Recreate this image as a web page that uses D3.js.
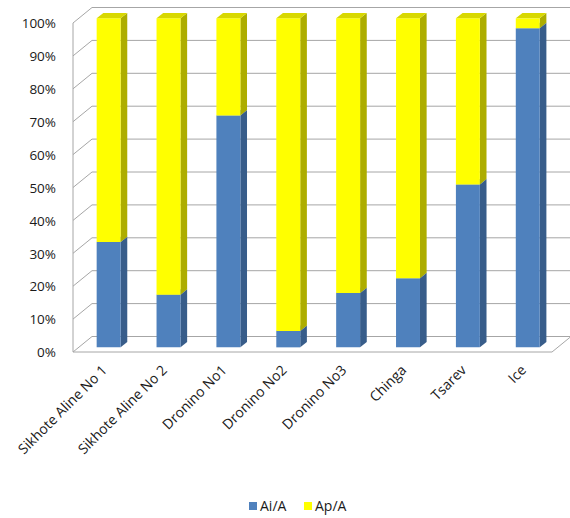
<!DOCTYPE html>
<html>
<head>
<meta charset="utf-8">
<script src="https://cdn.jsdelivr.net/npm/d3@7"></script>
<style>
  html, body { margin: 0; padding: 0; background: #ffffff; }
  svg { display: block; }
  text { font-family: "Open Sans", "DejaVu Sans", sans-serif; fill: #1a1a1a; }
</style>
</head>
<body>
<svg id="chart" width="570" height="518"></svg>
<script>
// ---- data ----
const categories = ["Sikhote Aline No 1", "Sikhote Aline No 2", "Dronino No1", "Dronino No2", "Dronino No3", "Chinga", "Tsarev", "Ice"];
const aiA = [32, 16, 70.5, 5, 16.5, 21, 49.5, 97];
const apA = aiA.map(v => 100 - v);
const seriesNames = ["Ai/A", "Ap/A"];
const tickValues = [0, 10, 20, 30, 40, 50, 60, 70, 80, 90, 100];

// ---- styles ----
const colors = {
  "Ai/A": { front: "#4f81bd", side: "#385d8a", top: "#6d97cb" },
  "Ap/A": { front: "#ffff00", side: "#adad00", top: "#d8d800" }
};
const gridColor = "#a6a6a6";

const svg = d3.select("#chart");

// ---- geometry ----
const plotLeft = 73, plotRight = 552, plotBottom = 352, plotTop = 23;
const DX = 19, DY = 15.5;          // depth projection
const zFront = 0.3, zBack = 0.65;  // bar depth range

const x = d3.scaleBand().domain(categories).range([plotLeft, plotRight]).paddingInner(0.6).paddingOuter(0.3);
const y = d3.scaleLinear().domain([0, 100]).range([plotBottom, plotTop]);
const P = (px, v, z) => [px + DX * z, y(v) - DY * z];

const g = svg.append("g");

// back wall gridlines
g.selectAll("line.back").data(tickValues).join("line")
  .attr("class", "back")
  .attr("x1", plotLeft + DX).attr("x2", plotRight + DX)
  .attr("y1", d => y(d) - DY).attr("y2", d => y(d) - DY)
  .attr("stroke", gridColor).attr("stroke-width", 1);

// side wall gridlines
g.selectAll("line.side").data(tickValues).join("line")
  .attr("class", "side")
  .attr("x1", plotLeft).attr("y1", d => y(d))
  .attr("x2", plotLeft + DX).attr("y2", d => y(d) - DY)
  .attr("stroke", gridColor).attr("stroke-width", 1);

// left wall front edge
g.append("line")
  .attr("x1", plotLeft).attr("x2", plotLeft).attr("y1", y(100)).attr("y2", y(0))
  .attr("stroke", gridColor);

// floor front and right edges
g.append("path")
  .attr("d", d3.line()([[plotLeft, y(0)], [plotRight, y(0)], [plotRight + DX, y(0) - DY]]))
  .attr("fill", "none").attr("stroke", gridColor);

// ---- bars ----
const stackData = categories.map((c, i) => ({ cat: c, "Ai/A": aiA[i], "Ap/A": apA[i] }));
const stacked = d3.stack().keys(seriesNames)(stackData);

const line = d3.line();
const barsG = svg.append("g");
categories.forEach((c, i) => {
  const x0 = x(c), x1 = x(c) + x.bandwidth();
  stacked.forEach(s => {
    const [v0, v1] = s[i];
    if (v1 - v0 <= 0) return;
    const col = colors[s.key];
    barsG.append("path")
      .attr("d", line([P(x1, v0, zFront), P(x1, v0, zBack), P(x1, v1, zBack), P(x1, v1, zFront)]) + "Z")
      .attr("fill", col.side);
    barsG.append("path")
      .attr("d", line([P(x0, v0, zFront), P(x1, v0, zFront), P(x1, v1, zFront), P(x0, v1, zFront)]) + "Z")
      .attr("fill", col.front);
    barsG.append("path")
      .attr("d", line([P(x0, v1, zFront), P(x1, v1, zFront), P(x1, v1, zBack), P(x0, v1, zBack)]) + "Z")
      .attr("fill", col.top);
  });
});

// ---- y axis labels ----
const yAxis = d3.axisLeft(y).tickValues(tickValues).tickFormat(d => d + "%").tickSize(0).tickPadding(0);
const ya = svg.append("g").attr("transform", `translate(${plotLeft - 17},0)`).call(yAxis);
ya.select(".domain").remove();
ya.selectAll("text").attr("font-size", 13.5).attr("font-family", "Open Sans").attr("fill", "#1a1a1a").attr("dy", "0.35em");

// ---- x labels ----
svg.append("g").selectAll("text").data(categories).join("text")
  .attr("transform", d => `translate(${x(d) + x.bandwidth() / 2 + 5},${371}) rotate(-45)`)
  .attr("text-anchor", "end")
  .attr("font-size", 14)
  .text(d => d);

// ---- legend ----
const legend = svg.append("g").attr("transform", "translate(249,506)");
const legItems = [{ name: "Ai/A", x: 0 }, { name: "Ap/A", x: 55 }];
legItems.forEach(it => {
  legend.append("rect").attr("x", it.x).attr("y", -4).attr("width", 8).attr("height", 8)
    .attr("fill", colors[it.name].front);
  legend.append("text").attr("x", it.x + 11).attr("y", 0).attr("dy", "0.35em")
    .attr("font-size", 14).text(it.name);
});
</script>
</body>
</html>
